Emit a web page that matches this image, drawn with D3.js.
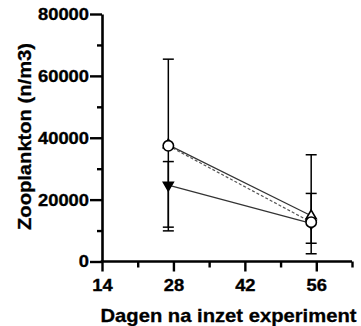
<!DOCTYPE html>
<html>
<head>
<meta charset="utf-8">
<script src="https://cdn.jsdelivr.net/npm/d3@7"></script>
<style>
  html, body { margin: 0; padding: 0; background: #fff; }
  svg { display: block; }
  text { font-family: "Liberation Sans", Arial, sans-serif; font-weight: bold; fill: #000; }
</style>
</head>
<body>
<svg id="chart" width="361" height="326"></svg>
<script>
// ---- data ----
const days = [27, 55];
const yMajorTicks = [0, 20000, 40000, 60000, 80000];
const yMinorTicks = [10000, 30000, 50000, 70000];
const xMajorTicks = [14, 28, 42, 56];
const xMinorTicks = [21, 35, 49, 63];
const yTitle = "Zooplankton (n/m3)";
const xTitle = "Dagen na inzet experiment";

// series A: open triangle up, solid line
const meanA = [37700, 14800];
const upperA = [65400, 34500];
const lowerA = [9900, 2500];
// series B: open circle, dashed line
const meanB = [37400, 12700];
const upperB = [null, 22000];
const lowerB = [null, 5900];
// series C: filled triangle down, solid line
const meanC = [24700, 12300];
const upperC = [32300, null];
const lowerC = [11100, null];

const series = [
  { name: "A", mean: meanA, upper: upperA, lower: lowerA, marker: "triUp", dash: null },
  { name: "C", mean: meanC, upper: upperC, lower: lowerC, marker: "triDown", dash: null },
  { name: "B", mean: meanB, upper: upperB, lower: lowerB, marker: "circle", dash: "3,2" }
];

// ---- scales ----
const svg = d3.select("#chart");
const x = d3.scaleLinear().domain([14, 63]).range([102, 352]);
const y = d3.scaleLinear().domain([0, 80000]).range([261.5, 14]);

// ---- axes ----
const axisColor = "#000";
const digitW = 10.2;
function styleAxis(g) {
  g.select(".domain").attr("stroke", axisColor).attr("stroke-width", 2.6);
  g.selectAll(".tick line").attr("stroke", axisColor).attr("stroke-width", 2.4);
  g.selectAll(".tick text")
    .attr("font-size", 17)
    .attr("font-family", "Liberation Sans, Arial, sans-serif")
    .attr("font-weight", "bold")
    .attr("fill", "#000")
    .attr("stroke", "#000").attr("stroke-width", 0.35)
    .attr("lengthAdjust", "spacingAndGlyphs")
    .attr("textLength", function() { return this.textContent.length * digitW; });
}
// y minor
svg.append("g").attr("transform", `translate(${x(14)},0)`)
  .call(d3.axisLeft(y).tickValues(yMinorTicks).tickSize(5).tickSizeOuter(0).tickFormat(""))
  .call(g => { g.select(".domain").remove(); g.selectAll(".tick line").attr("stroke", axisColor).attr("stroke-width", 2.4); });
// y major
const gy = svg.append("g").attr("transform", `translate(${x(14)},0)`)
  .call(d3.axisLeft(y).tickValues(yMajorTicks).tickSize(12).tickSizeOuter(0).tickPadding(1).tickFormat(d3.format("d")))
  .call(styleAxis);
// x minor
svg.append("g").attr("transform", `translate(0,${y(0)})`)
  .call(d3.axisBottom(x).tickValues(xMinorTicks).tickSize(6).tickSizeOuter(0).tickFormat(""))
  .call(g => { g.select(".domain").remove(); g.selectAll(".tick line").attr("stroke", axisColor).attr("stroke-width", 2.4); });
// x major
const gx = svg.append("g").attr("transform", `translate(0,${y(0)})`)
  .call(d3.axisBottom(x).tickValues(xMajorTicks).tickSize(10).tickSizeOuter(0).tickPadding(7).tickFormat(d3.format("d")))
  .call(styleAxis);
gx.select(".domain").attr("d", `M${x(14) - 1.3},0H${x(63)}`);

// titles
svg.append("text").attr("x", 228.5).attr("y", 321.5).attr("text-anchor", "middle")
  .attr("font-size", 18.5).attr("stroke", "#000").attr("stroke-width", 0.3)
  .attr("lengthAdjust", "spacingAndGlyphs").attr("textLength", 256)
  .text(xTitle);
svg.append("text").attr("transform", `translate(30.5,136.5) rotate(-90)`).attr("text-anchor", "middle")
  .attr("font-size", 18.5).attr("stroke", "#000").attr("stroke-width", 0.3)
  .attr("lengthAdjust", "spacingAndGlyphs").attr("textLength", 187)
  .text(yTitle);

// ---- lines ----
const line = d3.line().x((d, i) => x(days[i])).y(d => y(d));
series.forEach(s => {
  svg.append("path").attr("d", line(s.mean)).attr("fill", "none")
    .attr("stroke", s.dash ? "#555" : "#333").attr("stroke-width", 1.2)
    .attr("stroke-dasharray", s.dash);
});

// ---- error bars ----
const capW = 5.5;
series.forEach(s => {
  days.forEach((dd, i) => {
    const cx = x(dd);
    [s.upper[i], s.lower[i]].forEach(v => {
      if (v == null) return;
      svg.append("line").attr("x1", cx).attr("x2", cx).attr("y1", y(s.mean[i])).attr("y2", y(v))
        .attr("stroke", "#000").attr("stroke-width", 1.5);
      svg.append("line").attr("x1", cx - capW).attr("x2", cx + capW).attr("y1", y(v)).attr("y2", y(v))
        .attr("stroke", "#000").attr("stroke-width", 1.5);
    });
  });
});

// ---- markers ----
const sym = {
  triUp: d3.symbol().type(d3.symbolTriangle).size(42),
  triDown: d3.symbol().type(d3.symbolTriangle).size(42),
  circle: d3.symbol().type(d3.symbolCircle).size(85)
};
series.forEach(s => {
  s.mean.forEach((v, i) => {
    const p = svg.append("path").attr("d", sym[s.marker]())
      .attr("transform", `translate(${x(days[i])},${y(v)})` + (s.marker === "triDown" ? " rotate(180)" : ""))
      .attr("stroke", "#000").attr("stroke-width", 1.6);
    p.attr("fill", s.marker === "triDown" ? "#000" : "#fff");
  });
});
</script>
</body>
</html>
